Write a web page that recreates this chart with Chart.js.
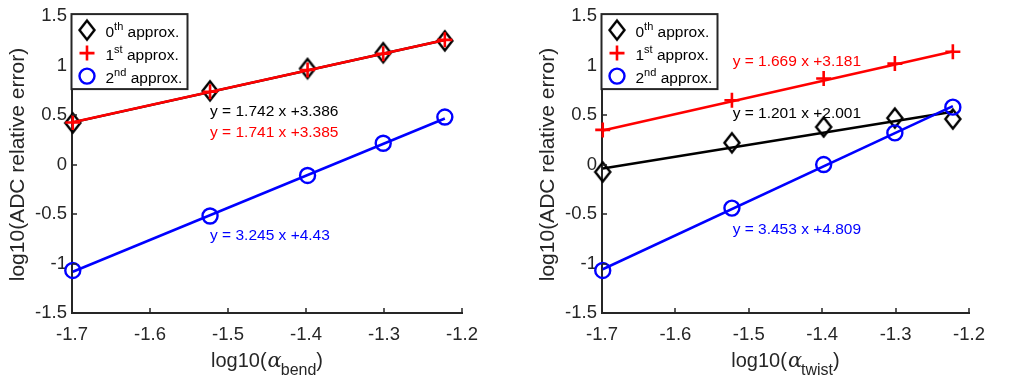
<!DOCTYPE html>
<html><head><meta charset="utf-8">
<script src="https://cdn.jsdelivr.net/npm/chart.js@4/dist/chart.umd.min.js"></script>
<style>
html,body{margin:0;padding:0;background:#fff;}
#wrap{position:relative;width:1014px;height:383px;overflow:hidden;}
.pane{position:absolute;top:0;width:507px;height:383px;}
</style></head><body>
<div id="wrap">
<div class="pane" style="left:0"><canvas id="c1" width="507" height="383"></canvas></div>
<div class="pane" style="left:507px"><canvas id="c2" width="507" height="383"></canvas></div>
</div>
<script>
// ---- data ----
const xVals = [-1.699, -1.523, -1.398, -1.301, -1.222];
const bend0 = [0.42, 0.745, 0.97, 1.13, 1.25];
const bend1 = [0.425, 0.735, 0.955, 1.12, 1.26];
const bend2 = [-1.07, -0.52, -0.11, 0.215, 0.48];
const twist0 = [-0.075, 0.22, 0.38, 0.47, 0.46];
const twist1 = [0.35, 0.65, 0.87, 1.02, 1.14];
const twist2 = [-1.07, -0.44, 0.0, 0.32, 0.58];
const fitX = [-1.699, -1.222];
const bendFit0 = [0.426, 1.258];
const bendFit1 = [0.427, 1.258];
const bendFit2 = [-1.083, 0.465];
const twistFit0 = [-0.040, 0.534];
const twistFit1 = [0.345, 1.142];
const twistFit2 = [-1.058, 0.590];
const bendEq = ['y = 1.742 x +3.386', 'y = 1.741 x +3.385', 'y = 3.245 x +4.43'];
const twistEq = ['y = 1.201 x +2.001', 'y = 1.669 x +3.181', 'y = 3.453 x +4.809'];
const legendNums = ['0', '1', '2'];
const legendSups = ['th', 'st', 'nd'];
const legendWord = ' approx.';
const yTicks = [-1.5, -1, -0.5, 0, 0.5, 1, 1.5];
const yTickLabels = ['-1.5', '-1', '-0.5', '0', '0.5', '1', '1.5'];
const xTicks = [-1.7, -1.6, -1.5, -1.4, -1.3, -1.2];
const xTickLabels = ['-1.7', '-1.6', '-1.5', '-1.4', '-1.3', '-1.2'];
const yTitle = 'log10(ADC relative error)';
const xTitleMain = 'log10(';
const xTitleSym = 'α';
const xTitleEnd = ')';
const subBend = 'bend';
const subTwist = 'twist';

// ---- styling ----
const FONT = '"Liberation Sans", Arial, Helvetica, sans-serif';
const AX = '#262626';
const BLACK = '#000000', RED = '#ff0000', BLUE = '#0000ff';
const COLORS = [BLACK, RED, BLUE];

// diamond marker (MATLAB-like, taller than wide)
const diamond = document.createElement('canvas');
diamond.width = 20; diamond.height = 24;
(function () {
  const c = diamond.getContext('2d');
  c.strokeStyle = BLACK; c.lineWidth = 2.4; c.lineJoin = 'miter';
  c.beginPath();
  c.moveTo(10, 2.5); c.lineTo(17.5, 12); c.lineTo(10, 21.5); c.lineTo(2.5, 12); c.closePath();
  c.stroke();
})();
const STYLES = [
  {pointStyle: diamond, radius: 9, bw: 2.4},
  {pointStyle: 'cross', radius: 7.5, bw: 2.6},
  {pointStyle: 'circle', radius: 7.5, bw: 2.4}
];

const decor = {
  id: 'decor',
  afterDatasetsDraw(chart, args, opts) {
    const ctx = chart.ctx;
    const xs = chart.scales.x, ys = chart.scales.y;
    const ca = chart.chartArea;
    ctx.save();
    // inward ticks
    ctx.strokeStyle = AX; ctx.lineWidth = 1.5;
    ctx.beginPath();
    xTicks.forEach(v => { const p = Math.round(xs.getPixelForValue(v)); ctx.moveTo(p, ca.bottom); ctx.lineTo(p, ca.bottom - 5); });
    yTicks.forEach(v => { const p = Math.round(ys.getPixelForValue(v)); ctx.moveTo(ca.left, p); ctx.lineTo(ca.left + 5, p); });
    ctx.stroke();
    // equations
    ctx.textAlign = 'left'; ctx.textBaseline = 'middle';
    ctx.font = '15.5px ' + FONT;
    opts.eqs.forEach((t, i) => {
      ctx.fillStyle = COLORS[i];
      ctx.fillText(t, xs.getPixelForValue(opts.eqPos[i][0]), ys.getPixelForValue(opts.eqPos[i][1]));
    });
    // legend
    const L = ca.left - 0.5, T = ca.top - 2, W = 116, H = 75;
    ctx.fillStyle = '#ffffff'; ctx.fillRect(L, T, W, H);
    ctx.strokeStyle = AX; ctx.lineWidth = 2; ctx.strokeRect(L, T, W, H);
    for (let i = 0; i < 3; i++) {
      const yy = T + 16 + i * 23;
      ctx.strokeStyle = COLORS[i]; ctx.fillStyle = 'rgba(0,0,0,0)'; ctx.lineWidth = STYLES[i].bw;
      Chart.helpers.drawPoint(ctx, {pointStyle: STYLES[i].pointStyle, radius: STYLES[i].radius, borderWidth: STYLES[i].bw, rotation: 0}, L + 15.5, yy);
      ctx.fillStyle = '#000';
      ctx.textBaseline = 'alphabetic';
      let x = L + 34;
      ctx.font = '15.5px ' + FONT;
      ctx.fillText(legendNums[i], x, yy + 7);
      x += ctx.measureText(legendNums[i]).width;
      ctx.font = '11px ' + FONT;
      ctx.fillText(legendSups[i], x, yy);
      x += ctx.measureText(legendSups[i]).width;
      ctx.font = '15.5px ' + FONT;
      ctx.fillText(legendWord, x, yy + 7);
    }
    // x title with subscript
    const f1 = '20px ' + FONT, fa = 'italic 21px "DejaVu Serif", "Liberation Serif", serif', fs = '16px ' + FONT;
    ctx.font = f1; const w1 = ctx.measureText(xTitleMain).width, w4 = ctx.measureText(xTitleEnd).width;
    ctx.font = fa; const w2 = ctx.measureText(xTitleSym).width;
    ctx.font = fs; const w3 = ctx.measureText(opts.sub).width;
    let x0 = (ca.left + ca.right) / 2 - (w1 + w2 + w3 + w4) / 2;
    const base = 367;
    ctx.fillStyle = AX; ctx.textBaseline = 'alphabetic';
    ctx.font = f1; ctx.fillText(xTitleMain, x0, base); x0 += w1 + 1;
    ctx.font = fa; ctx.fillText(xTitleSym, x0, base); x0 += w2 - 1;
    ctx.font = fs; ctx.fillText(opts.sub, x0, base + 8); x0 += w3;
    ctx.font = f1; ctx.fillText(xTitleEnd, x0, base);
    ctx.restore();
  }
};

function makeChart(id, d, f, eqs, eqPos, sub, padLeft) {
  const pts = ys => ys.map((y, i) => ({x: xVals[i], y}));
  const fpts = ys => ys.map((y, i) => ({x: fitX[i], y}));
  const datasets = [];
  for (const i of [2, 1, 0]) {
    datasets.push({data: pts(d[i]), pointStyle: STYLES[i].pointStyle, pointRadius: STYLES[i].radius,
      pointBorderColor: COLORS[i], pointBackgroundColor: 'rgba(0,0,0,0)', pointBorderWidth: STYLES[i].bw,
      borderColor: COLORS[i], showLine: false, clip: false});
    datasets.push({data: fpts(f[i]), borderColor: COLORS[i], borderWidth: 2.5, pointRadius: 0, showLine: true, clip: false});
  }
  return new Chart(document.getElementById(id), {
    type: 'scatter',
    data: {datasets},
    options: {
      responsive: false, animation: false, devicePixelRatio: 1,
      layout: {padding: {left: padLeft, top: 11, right: 45, bottom: 0}},
      plugins: {legend: {display: false}, tooltip: {enabled: false},
        decor: {eqs, eqPos, sub}},
      scales: {
        x: {type: 'linear', min: -1.7, max: -1.2,
          grid: {display: false, drawTicks: false},
          border: {display: true, color: AX, width: 2},
          ticks: {font: {family: FONT, size: 18.5}, color: AX, padding: 11, autoSkip: false, maxRotation: 0,
            callback: (v, i) => xTickLabels[i]},
          afterBuildTicks: s => { s.ticks = xTicks.map(v => ({value: v})); },
          afterFit: s => { s.height = 70; }
        },
        y: {type: 'linear', min: -1.5, max: 1.5,
          grid: {display: false, drawTicks: false},
          border: {display: true, color: AX, width: 2},
          ticks: {font: {family: FONT, size: 18.5}, color: AX, padding: 5, autoSkip: false,
            callback: (v, i) => yTickLabels[i]},
          title: {display: true, text: yTitle, font: {family: FONT, size: 21}, color: AX, padding: {top: 6, bottom: 0}},
          afterBuildTicks: s => { s.ticks = yTicks.map(v => ({value: v})); },
          afterFit: s => { s.width = 72; }
        }
      }
    },
    plugins: [decor]
  });
}

makeChart('c1', [bend0, bend1, bend2], [bendFit0, bendFit1, bendFit2], bendEq,
  [[-1.523, 0.534], [-1.523, 0.325], [-1.523, -0.72]], subBend, 0);
makeChart('c2', [twist0, twist1, twist2], [twistFit0, twistFit1, twistFit2], twistEq,
  [[-1.522, 0.514], [-1.522, 1.035], [-1.522, -0.66]], subTwist, 23);
</script>
</body></html>
